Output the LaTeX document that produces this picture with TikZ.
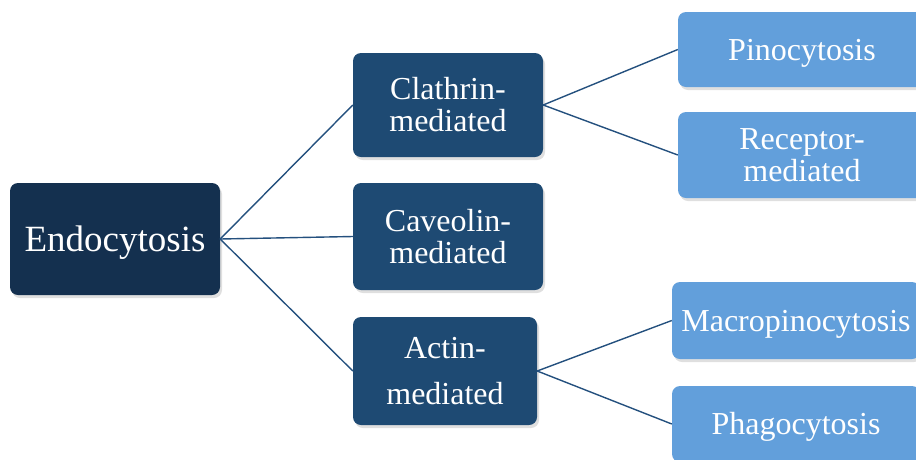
\documentclass[tikz,border=0pt]{standalone}
\usepackage{fontspec}
\setmainfont{Liberation Serif}
\usetikzlibrary{shadows}
\definecolor{cdark}{HTML}{14304F}
\definecolor{cmid}{HTML}{1E4A73}
\definecolor{clight}{HTML}{629FDB}
\definecolor{cline}{HTML}{24507E}
\tikzset{
  box/.style={rounded corners=8pt, text=white, align=center, inner sep=0pt,
    font=\fontsize{32}{32}\selectfont,
    drop shadow={opacity=0.25, shadow xshift=2pt, shadow yshift=-3pt}},
  oneline/.style={text height=28pt, text depth=7pt},
  rootbox/.style={box, fill=cdark, font=\fontsize{37}{38}\selectfont, text height=32pt, text depth=8pt},
  midbox/.style={box, fill=cmid},
  leafbox/.style={box, fill=clight},
  conn/.style={draw=cline, line width=1.4pt}
}
\begin{document}
\begin{tikzpicture}[x=1pt,y=-1pt]
\useasboundingbox (0,0) rectangle (916,459);
\clip (0,0) rectangle (916,459);
\node[rootbox, minimum width=210pt, minimum height=112pt] (endo) at (115,239) {Endocytosis};
\node[midbox, minimum width=190pt, minimum height=104pt] (clath) at (448,105) {Clathrin-\\mediated};
\node[midbox, minimum width=190pt, minimum height=107pt] (cav) at (448,236.5) {Caveolin-\\mediated};
\node[midbox, minimum width=184pt, minimum height=108pt, font=\fontsize{32}{46}\selectfont] (actin) at (445,371) {Actin-\\mediated};
\node[leafbox, oneline, minimum width=248pt, minimum height=75pt] (pino) at (802,49.5) {Pinocytosis};
\node[leafbox, minimum width=248pt, minimum height=86pt] (recep) at (802,155) {Receptor-\\mediated};
\node[leafbox, oneline, minimum width=248pt, minimum height=77pt] (macro) at (796,320.5) {Macropinocytosis};
\node[leafbox, oneline, minimum width=248pt, minimum height=76pt] (phago) at (796,424) {Phagocytosis};
\draw[conn] (endo.east) -- (clath.west);
\draw[conn] (endo.east) -- (cav.west);
\draw[conn] (endo.east) -- (actin.west);
\draw[conn] (clath.east) -- (pino.west);
\draw[conn] (clath.east) -- (recep.west);
\draw[conn] (actin.east) -- (macro.west);
\draw[conn] (actin.east) -- (phago.west);
\end{tikzpicture}
\end{document}
